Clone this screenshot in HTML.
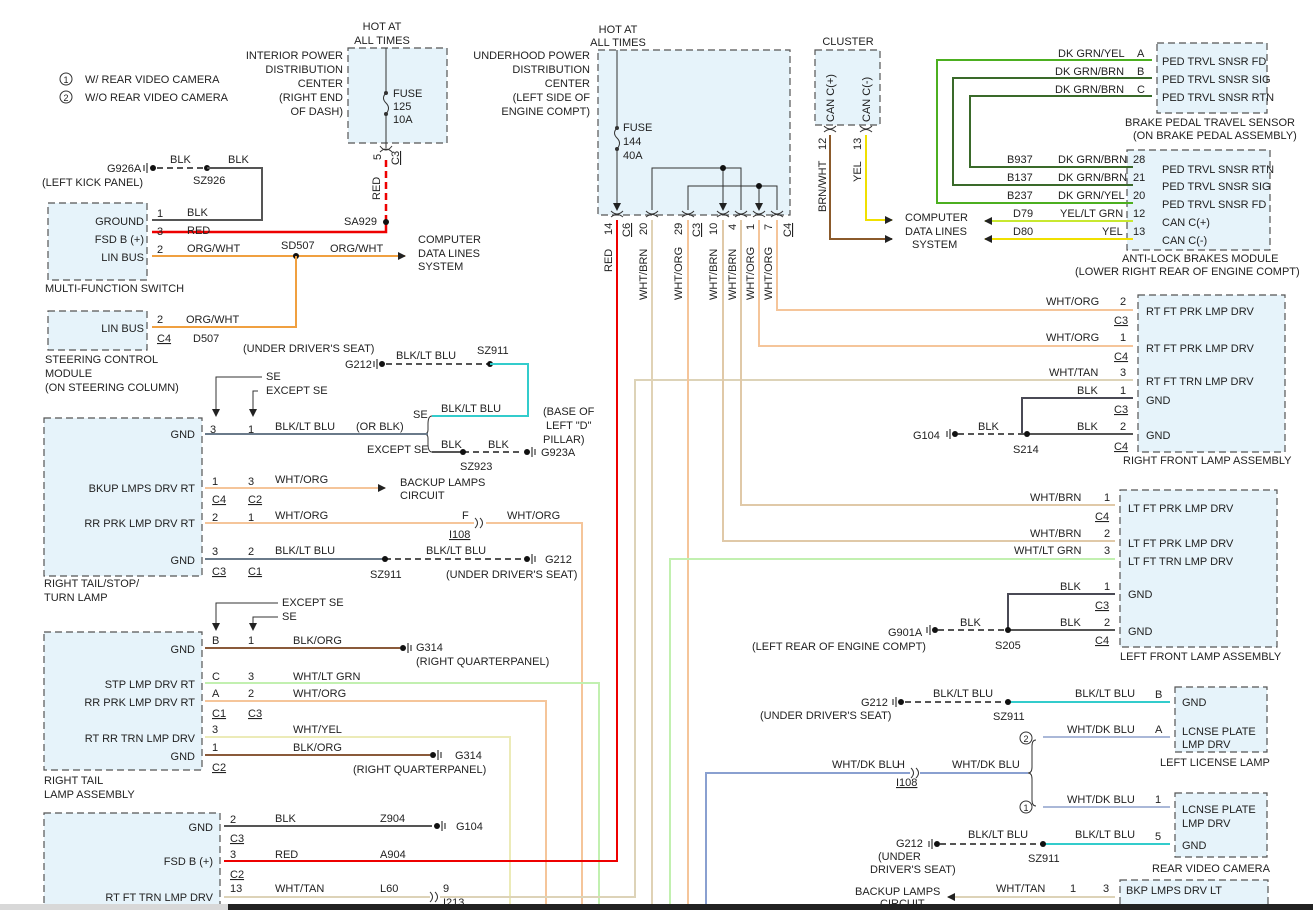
<!DOCTYPE html>
<html><head><meta charset="utf-8"><style>
html,body{margin:0;padding:0;background:#fff;}
svg{display:block;font-family:"Liberation Sans",Arial,sans-serif;font-size:11px;fill:#222;}
.b{fill:#e6f3fa;stroke:#555;stroke-width:1.2;stroke-dasharray:7 4;}
.e{text-anchor:end}
.m{text-anchor:middle}
.w{fill:none;stroke-width:2}
.u{text-decoration:underline}
</style></head><body>
<svg width="1313" height="910" viewBox="0 0 1313 910" xmlns="http://www.w3.org/2000/svg">
<defs>
<marker id="ar" markerWidth="8" markerHeight="8" refX="7" refY="4" orient="auto" markerUnits="userSpaceOnUse"><path d="M0,0 L8,4 L0,8 z" fill="#222"/></marker>
</defs>
<!-- legend -->
<circle cx="66" cy="79" r="6" fill="none" stroke="#333"/><text x="66" y="83" class="m" font-size="9">1</text>
<text x="85" y="83">W/ REAR VIDEO CAMERA</text>
<circle cx="66" cy="97" r="6" fill="none" stroke="#333"/><text x="66" y="101" class="m" font-size="9">2</text>
<text x="85" y="101">W/O REAR VIDEO CAMERA</text>

<!-- boxes -->
<rect class="b" x="348" y="48" width="99" height="95"/>
<rect class="b" x="48" y="203" width="99" height="77"/>
<rect class="b" x="48" y="311" width="99" height="39"/>
<rect class="b" x="44" y="418" width="158" height="158"/>
<rect class="b" x="44" y="632" width="158" height="138"/>
<rect class="b" x="44" y="813" width="176" height="100"/>
<rect class="b" x="598" y="50" width="192" height="165"/>
<rect class="b" x="815" y="50" width="65" height="75"/>
<rect class="b" x="1157" y="43" width="110" height="70"/>
<rect class="b" x="1127" y="150" width="143" height="100"/>
<rect class="b" x="1138" y="295" width="147" height="157"/>
<rect class="b" x="1120" y="490" width="157" height="157"/>
<rect class="b" x="1175" y="687" width="92" height="65"/>
<rect class="b" x="1175" y="793" width="92" height="64"/>
<rect class="b" x="1120" y="880" width="148" height="40"/>

<!-- interior PDC -->
<text x="382" y="30" class="m">HOT AT</text><text x="382" y="44" class="m">ALL TIMES</text>
<text x="343" y="59" class="e">INTERIOR POWER</text><text x="343" y="73" class="e">DISTRIBUTION</text><text x="343" y="87" class="e">CENTER</text><text x="343" y="101" class="e">(RIGHT END</text><text x="343" y="115" class="e">OF DASH)</text>
<path d="M386 48 V93 M386 114 V148" stroke="#333" fill="none"/>
<path d="M386 93 q-5 5 0 10 q5 5 0 11" stroke="#333" fill="none"/>
<circle cx="386" cy="93" r="2" fill="#333"/><circle cx="386" cy="114" r="2" fill="#333"/>
<text x="393" y="97">FUSE</text><text x="393" y="110">125</text><text x="393" y="123">10A</text>
<path d="M380 146 q6 8 12 0 M380 152 q6 -6 12 0" stroke="#333" fill="none"/>
<text transform="translate(381,160) rotate(-90)">5</text><text transform="translate(399,165) rotate(-90)" class="u">C3</text>
<path d="M386 160 V222" stroke="#e00" stroke-width="2.5" stroke-dasharray="7 4"/>
<text transform="translate(380,200) rotate(-90)">RED</text>
<path d="M386 222 V232 H152" stroke="#e00" stroke-width="2.5" fill="none"/>
<circle cx="386" cy="222" r="3" fill="#111"/><text x="344" y="225">SA929</text>

<!-- G926A -->
<text x="107" y="172">G926A</text><text x="42" y="186">(LEFT KICK PANEL)</text>
<circle cx="153" cy="168" r="3" fill="#111"/><path d="M147 163 V173 M144 165 V171" stroke="#111"/>
<path d="M157 168 H207" stroke="#555" stroke-width="2" stroke-dasharray="6 4"/>
<text x="170" y="163">BLK</text><circle cx="207" cy="168" r="3" fill="#111"/><text x="193" y="184">SZ926</text><text x="228" y="163">BLK</text>
<path d="M207 168 H262 V220 H152" stroke="#555" stroke-width="2" fill="none"/>

<!-- MFS -->
<text x="144" y="225" class="e">GROUND</text><text x="144" y="243" class="e">FSD B (+)</text><text x="144" y="261" class="e">LIN BUS</text>
<text x="157" y="217">1</text><text x="157" y="235">3</text><text x="157" y="253">2</text>
<text x="187" y="216">BLK</text><text x="187" y="234">RED</text><text x="187" y="252">ORG/WHT</text>
<path d="M152 256 H405" stroke="#f0a040" stroke-width="2" marker-end="url(#ar)"/>
<circle cx="296" cy="256" r="3" fill="#111"/><text x="281" y="249">SD507</text><text x="330" y="252">ORG/WHT</text>
<text x="418" y="243">COMPUTER</text><text x="418" y="257">DATA LINES</text><text x="418" y="270">SYSTEM</text>
<text x="45" y="292">MULTI-FUNCTION SWITCH</text>
<text x="144" y="332" class="e">LIN BUS</text><text x="157" y="323">2</text><text x="186" y="323">ORG/WHT</text>
<path d="M152 327 H296 V256" stroke="#f0a040" stroke-width="2" fill="none"/>
<text x="157" y="342" class="u">C4</text><text x="193" y="342">D507</text>
<text x="45" y="363">STEERING CONTROL</text><text x="45" y="377">MODULE</text><text x="45" y="391">(ON STEERING COLUMN)</text>

<!-- G212 / SZ911 top -->
<text x="243" y="352">(UNDER DRIVER'S SEAT)</text><text x="345" y="368">G212</text>
<path d="M377 359 V369 M374 361 V367" stroke="#111"/><circle cx="382" cy="364" r="3" fill="#111"/>
<path d="M386 364 H490" stroke="#555" stroke-width="2" stroke-dasharray="6 4"/>
<text x="396" y="359">BLK/LT BLU</text><circle cx="490" cy="364" r="3" fill="#111"/><text x="477" y="354">SZ911</text>
<path d="M490 364 H528 V416 H432" stroke="#3cc" stroke-width="2" fill="none"/>
<text x="441" y="412">BLK/LT BLU</text><text x="413" y="418">SE</text>
<path d="M432 416 q-4 0 -4 8 v6 q0 4 -4 4 q4 0 4 4 v6 q0 8 4 8" stroke="#333" fill="none"/>
<text x="543" y="415">(BASE OF</text><text x="546" y="429">LEFT "D"</text><text x="543" y="443">PILLAR)</text>
<text x="367" y="453">EXCEPT SE</text><text x="441" y="448">BLK</text><text x="488" y="448">BLK</text>
<path d="M432 452 H463" stroke="#555" stroke-width="2"/><path d="M463 452 H522" stroke="#555" stroke-width="2" stroke-dasharray="6 4"/>
<circle cx="463" cy="452" r="3" fill="#111"/><text x="460" y="470">SZ923</text>
<circle cx="527" cy="452" r="3" fill="#111"/><path d="M532 447 V457 M535 449 V455" stroke="#111"/><text x="541" y="456">G923A</text>

<!-- right tail/stop -->
<text x="266" y="380">SE</text><text x="266" y="394">EXCEPT SE</text>
<path d="M262 377 H216 V416" stroke="#333" fill="none" marker-end="url(#ar)"/>
<path d="M258 391 H253 V416" stroke="#333" fill="none" marker-end="url(#ar)"/>
<text x="195" y="438" class="e">GND</text><text x="195" y="492" class="e">BKUP LMPS DRV RT</text><text x="195" y="527" class="e">RR PRK LMP DRV RT</text><text x="195" y="564" class="e">GND</text>
<text x="210" y="433">3</text><text x="248" y="433">1</text><text x="275" y="430">BLK/LT BLU</text><text x="356" y="430">(OR BLK)</text>
<path d="M205 434 H428" stroke="#6a7a8a" stroke-width="2"/>
<text x="212" y="485">1</text><text x="248" y="485">3</text><text x="275" y="483">WHT/ORG</text>
<path d="M205 488 H385" stroke="#f5c59a" stroke-width="2" marker-end="url(#ar)"/>
<text x="212" y="503" class="u">C4</text><text x="248" y="503" class="u">C2</text>
<text x="400" y="486">BACKUP LAMPS</text><text x="400" y="499">CIRCUIT</text>
<text x="212" y="521">2</text><text x="248" y="521">1</text><text x="275" y="519">WHT/ORG</text>
<path d="M205 523 H474 M486 523 H582 V910" stroke="#f5c59a" stroke-width="2" fill="none"/>
<path d="M475 518 q5 5 0 10 M480 518 q5 5 0 10" stroke="#333" fill="none"/>
<text x="462" y="519">F</text><text x="449" y="538" class="u">I108</text><text x="507" y="519">WHT/ORG</text>
<text x="212" y="555">3</text><text x="248" y="555">2</text><text x="275" y="554">BLK/LT BLU</text>
<path d="M205 559 H385" stroke="#6a7a8a" stroke-width="2"/><path d="M385 559 H522" stroke="#555" stroke-width="2" stroke-dasharray="6 4"/>
<circle cx="385" cy="559" r="3" fill="#111"/><text x="370" y="578">SZ911</text><text x="426" y="554">BLK/LT BLU</text>
<circle cx="527" cy="559" r="3" fill="#111"/><path d="M532 554 V564 M535 556 V562" stroke="#111"/><text x="545" y="563">G212</text>
<text x="446" y="578">(UNDER DRIVER'S SEAT)</text>
<text x="212" y="575" class="u">C3</text><text x="248" y="575" class="u">C1</text>
<text x="44" y="587">RIGHT TAIL/STOP/</text><text x="44" y="601">TURN LAMP</text>

<!-- right tail lamp assembly -->
<text x="282" y="606">EXCEPT SE</text><text x="282" y="620">SE</text>
<path d="M278 603 H216 V630" stroke="#333" fill="none" marker-end="url(#ar)"/>
<path d="M278 617 H253 V630" stroke="#333" fill="none" marker-end="url(#ar)"/>
<text x="195" y="653" class="e">GND</text><text x="195" y="688" class="e">STP LMP DRV RT</text><text x="195" y="706" class="e">RR PRK LMP DRV RT</text><text x="195" y="742" class="e">RT RR TRN LMP DRV</text><text x="195" y="760" class="e">GND</text>
<text x="212" y="644">B</text><text x="248" y="644">1</text><text x="293" y="644">BLK/ORG</text>
<path d="M205 648 H400" stroke="#8a5a3a" stroke-width="2"/>
<circle cx="403" cy="648" r="3" fill="#111"/><path d="M408 643 V653 M411 645 V651" stroke="#111"/><text x="416" y="651">G314</text><text x="416" y="665">(RIGHT QUARTERPANEL)</text>
<text x="212" y="680">C</text><text x="248" y="680">3</text><text x="293" y="680">WHT/LT GRN</text>
<path d="M205 683 H599 V910" stroke="#c2f0b0" stroke-width="2" fill="none"/>
<text x="212" y="697">A</text><text x="248" y="697">2</text><text x="293" y="697">WHT/ORG</text>
<path d="M205 701 H546 V910" stroke="#f5c59a" stroke-width="2" fill="none"/>
<text x="212" y="717" class="u">C1</text><text x="248" y="717" class="u">C3</text>
<text x="212" y="733">3</text><text x="293" y="733">WHT/YEL</text>
<path d="M205 737 H510 V910" stroke="#ecebb8" stroke-width="2" fill="none"/>
<text x="212" y="751">1</text><text x="293" y="751">BLK/ORG</text>
<path d="M205 755 H430" stroke="#8a5a3a" stroke-width="2"/>
<circle cx="433" cy="755" r="3" fill="#111"/><path d="M438 750 V760 M441 752 V758" stroke="#111"/><text x="455" y="759">G314</text><text x="353" y="773">(RIGHT QUARTERPANEL)</text>
<text x="212" y="771" class="u">C2</text>
<text x="44" y="784">RIGHT TAIL</text><text x="44" y="798">LAMP ASSEMBLY</text>

<!-- bottom left -->
<text x="213" y="831" class="e">GND</text><text x="213" y="865" class="e">FSD B (+)</text><text x="213" y="901" class="e">RT FT TRN LMP DRV</text>
<text x="230" y="823">2</text><text x="275" y="822">BLK</text><text x="380" y="822">Z904</text>
<path d="M224 826 H432" stroke="#555" stroke-width="2"/>
<circle cx="437" cy="826" r="3" fill="#111"/><path d="M442 821 V831 M445 823 V829" stroke="#111"/><text x="456" y="830">G104</text>
<text x="230" y="842" class="u">C3</text>
<text x="230" y="858">3</text><text x="275" y="858">RED</text><text x="380" y="858">A904</text>
<path d="M224 861 H617 V220" stroke="#e00" stroke-width="2" fill="none"/>
<text x="230" y="878" class="u">C2</text>
<text x="230" y="892">13</text><text x="275" y="892">WHT/TAN</text><text x="380" y="892">L60</text>
<path d="M224 897 H430 M440 897 H635 V380 H1133" stroke="#ddd3b8" stroke-width="2" fill="none"/>
<path d="M430 892 q5 5 0 10 M435 892 q5 5 0 10" stroke="#333" fill="none"/>
<text x="443" y="892">9</text><text x="443" y="906" class="u">I213</text>

<!-- underhood PDC -->
<text x="618" y="33" class="m">HOT AT</text><text x="618" y="46" class="m">ALL TIMES</text>
<text x="590" y="59" class="e">UNDERHOOD POWER</text><text x="590" y="73" class="e">DISTRIBUTION</text><text x="590" y="87" class="e">CENTER</text><text x="590" y="101" class="e">(LEFT SIDE OF</text><text x="590" y="115" class="e">ENGINE COMPT)</text>
<path d="M617 50 V128 M617 149 V210" stroke="#333" fill="none" marker-end="url(#ar)"/>
<path d="M617 128 q-5 5 0 10 q5 5 0 11" stroke="#333" fill="none"/>
<circle cx="617" cy="128" r="2" fill="#333"/><circle cx="617" cy="149" r="2" fill="#333"/>
<text x="623" y="131">FUSE</text><text x="623" y="145">144</text><text x="623" y="159">40A</text>
<path d="M652 210 V168 H741 V210 M723 168 V210" stroke="#333" fill="none"/>
<path d="M652 208 V210 M741 208 V210 M723 208 V210" stroke="#333" marker-end="url(#ar)"/>
<circle cx="723" cy="168" r="3" fill="#111"/>
<path d="M688 210 V186 H777 V210 M759 186 V210" stroke="#333" fill="none"/>
<path d="M688 208 V210 M777 208 V210 M759 208 V210" stroke="#333" marker-end="url(#ar)"/>
<circle cx="759" cy="186" r="3" fill="#111"/>
<g stroke="#333" fill="none">
<path d="M611 211 q6 6 12 0 M611 217 q6 -5 12 0"/><path d="M646 211 q6 6 12 0 M646 217 q6 -5 12 0"/><path d="M682 211 q6 6 12 0 M682 217 q6 -5 12 0"/><path d="M717 211 q6 6 12 0 M717 217 q6 -5 12 0"/><path d="M735 211 q6 6 12 0 M735 217 q6 -5 12 0"/><path d="M753 211 q6 6 12 0 M753 217 q6 -5 12 0"/><path d="M771 211 q6 6 12 0 M771 217 q6 -5 12 0"/>
</g>
<text transform="translate(612,235) rotate(-90)">14</text><text transform="translate(630,237) rotate(-90)" class="u">C6</text>
<text transform="translate(647,235) rotate(-90)">20</text><text transform="translate(682,235) rotate(-90)">29</text><text transform="translate(700,237) rotate(-90)" class="u">C3</text>
<text transform="translate(717,235) rotate(-90)">10</text><text transform="translate(736,230) rotate(-90)">4</text><text transform="translate(754,230) rotate(-90)">1</text><text transform="translate(772,230) rotate(-90)">7</text><text transform="translate(791,237) rotate(-90)" class="u">C4</text>
<text transform="translate(612,272) rotate(-90)">RED</text>
<text transform="translate(647,300) rotate(-90)">WHT/BRN</text><text transform="translate(682,300) rotate(-90)">WHT/ORG</text>
<text transform="translate(717,300) rotate(-90)">WHT/BRN</text><text transform="translate(736,300) rotate(-90)">WHT/BRN</text><text transform="translate(754,300) rotate(-90)">WHT/ORG</text><text transform="translate(772,300) rotate(-90)">WHT/ORG</text>
<g fill="none" stroke-width="2">
<path d="M652 220 V910" stroke="#e0d2b5"/>
<path d="M688 220 V910" stroke="#f5c59a"/>
<path d="M723 220 V541 H1115" stroke="#e0c9a8"/>
<path d="M741 220 V505 H1115" stroke="#e0c9a8"/>
<path d="M759 220 V346 H1133" stroke="#f5c59a"/>
<path d="M777 220 V310 H1133" stroke="#f5c59a"/>
<path d="M670 910 V559 H1115" stroke="#c2f0b0"/>
<path d="M706 910 V773 H910" stroke="#8aa0d0"/>
</g>

<!-- cluster -->
<text x="848" y="45" class="m">CLUSTER</text>
<text transform="translate(834,122) rotate(-90)">CAN C(+)</text><text transform="translate(870,122) rotate(-90)">CAN C(-)</text>
<path d="M824 126 q6 6 12 0 M824 132 q6 -5 12 0 M860 126 q6 6 12 0 M860 132 q6 -5 12 0" stroke="#333" fill="none"/>
<text transform="translate(826,150) rotate(-90)">12</text><text transform="translate(861,150) rotate(-90)">13</text>
<text transform="translate(826,212) rotate(-90)">BRN/WHT</text><text transform="translate(861,182) rotate(-90)">YEL</text>
<path d="M830 135 V239 H892" stroke="#8b5a2b" stroke-width="2" fill="none" marker-end="url(#ar)"/>
<path d="M866 135 V220 H892" stroke="#f0e000" stroke-width="2" fill="none" marker-end="url(#ar)"/>
<text x="905" y="221">COMPUTER</text><text x="905" y="235">DATA LINES</text><text x="912" y="248">SYSTEM</text>

<!-- brake pedal / ABS -->
<text x="1162" y="65">PED TRVL SNSR FD</text><text x="1162" y="83">PED TRVL SNSR SIG</text><text x="1162" y="101">PED TRVL SNSR RTN</text>
<text x="1137" y="57">A</text><text x="1137" y="75">B</text><text x="1137" y="93">C</text>
<text x="1058" y="57">DK GRN/YEL</text><text x="1055" y="75">DK GRN/BRN</text><text x="1055" y="93">DK GRN/BRN</text>
<g fill="none" stroke-width="2">
<path d="M1152 60 H937 V203 H1133" stroke="#4caf20"/>
<path d="M1152 78 H953 V185 H1133" stroke="#3a6a2a"/>
<path d="M1152 96 H970 V167 H1133" stroke="#3a6a2a"/>
<path d="M1133 221 H985" stroke="#c8e830" marker-end="url(#ar)"/>
<path d="M1133 239 H985" stroke="#f0e000" marker-end="url(#ar)"/>
</g>
<text x="1125" y="126">BRAKE PEDAL TRAVEL SENSOR</text><text x="1133" y="139">(ON BRAKE PEDAL ASSEMBLY)</text>
<text x="1162" y="173">PED TRVL SNSR RTN</text><text x="1162" y="190">PED TRVL SNSR SIG</text><text x="1162" y="208">PED TRVL SNSR FD</text><text x="1162" y="226">CAN C(+)</text><text x="1162" y="244">CAN C(-)</text>
<text x="1133" y="163">28</text><text x="1133" y="181">21</text><text x="1133" y="199">20</text><text x="1133" y="217">12</text><text x="1133" y="235">13</text>
<text x="1007" y="163">B937</text><text x="1058" y="163">DK GRN/BRN</text>
<text x="1007" y="181">B137</text><text x="1058" y="181">DK GRN/BRN</text>
<text x="1007" y="199">B237</text><text x="1058" y="199">DK GRN/YEL</text>
<text x="1013" y="217">D79</text><text x="1060" y="217">YEL/LT GRN</text>
<text x="1013" y="235">D80</text><text x="1102" y="235">YEL</text>
<text x="1122" y="262">ANTI-LOCK BRAKES MODULE</text><text x="1075" y="275">(LOWER RIGHT REAR OF ENGINE COMPT)</text>

<!-- right front lamp -->
<text x="1146" y="315">RT FT PRK LMP DRV</text><text x="1146" y="352">RT FT PRK LMP DRV</text><text x="1146" y="385">RT FT TRN LMP DRV</text><text x="1146" y="404">GND</text><text x="1146" y="439">GND</text>
<text x="1120" y="305">2</text><text x="1114" y="324" class="u">C3</text><text x="1120" y="341">1</text><text x="1114" y="360" class="u">C4</text><text x="1120" y="376">3</text><text x="1120" y="394">1</text><text x="1114" y="413" class="u">C3</text><text x="1120" y="430">2</text><text x="1114" y="450" class="u">C4</text>
<text x="1046" y="305">WHT/ORG</text><text x="1046" y="341">WHT/ORG</text><text x="1049" y="376">WHT/TAN</text><text x="1077" y="394">BLK</text><text x="1077" y="430">BLK</text>
<path d="M1133 398 H1022 V434" stroke="#4a4a55" stroke-width="2" fill="none"/>
<path d="M1027 434 H1133" stroke="#555" stroke-width="2"/><path d="M958 434 H1027" stroke="#555" stroke-width="2" stroke-dasharray="6 4"/>
<circle cx="1027" cy="434" r="3" fill="#111"/><text x="1013" y="453">S214</text><text x="978" y="430">BLK</text>
<circle cx="955" cy="434" r="3" fill="#111"/><path d="M950 429 V439 M947 431 V437" stroke="#111"/><text x="913" y="439">G104</text>
<text x="1123" y="464">RIGHT FRONT LAMP ASSEMBLY</text>

<!-- left front lamp -->
<text x="1128" y="512">LT FT PRK LMP DRV</text><text x="1128" y="547">LT FT PRK LMP DRV</text><text x="1128" y="565">LT FT TRN LMP DRV</text><text x="1128" y="598">GND</text><text x="1128" y="635">GND</text>
<text x="1104" y="501">1</text><text x="1095" y="520" class="u">C4</text><text x="1104" y="537">2</text><text x="1104" y="554">3</text><text x="1104" y="590">1</text><text x="1095" y="609" class="u">C3</text><text x="1104" y="626">2</text><text x="1095" y="644" class="u">C4</text>
<text x="1030" y="501">WHT/BRN</text><text x="1030" y="537">WHT/BRN</text><text x="1014" y="554">WHT/LT GRN</text><text x="1060" y="590">BLK</text><text x="1060" y="626">BLK</text>
<path d="M1115 594 H1008 V630" stroke="#4a4a55" stroke-width="2" fill="none"/>
<path d="M1008 630 H1115" stroke="#555" stroke-width="2"/><path d="M938 630 H1008" stroke="#555" stroke-width="2" stroke-dasharray="6 4"/>
<circle cx="1008" cy="630" r="3" fill="#111"/><text x="995" y="649">S205</text><text x="960" y="626">BLK</text>
<circle cx="935" cy="630" r="3" fill="#111"/><path d="M930 625 V635 M927 627 V633" stroke="#111"/><text x="888" y="636">G901A</text>
<text x="752" y="650">(LEFT REAR OF ENGINE COMPT)</text>
<text x="1120" y="660">LEFT FRONT LAMP ASSEMBLY</text>

<!-- left license lamp -->
<text x="1182" y="706">GND</text><text x="1182" y="735">LCNSE PLATE</text><text x="1182" y="748">LMP DRV</text>
<text x="1155" y="698">B</text><text x="1155" y="733">A</text>
<path d="M1008 702 H1170" stroke="#3cc" stroke-width="2"/><path d="M905 702 H1008" stroke="#555" stroke-width="2" stroke-dasharray="6 4"/>
<circle cx="1008" cy="702" r="3" fill="#111"/><text x="993" y="720">SZ911</text>
<text x="933" y="697">BLK/LT BLU</text><text x="1075" y="697">BLK/LT BLU</text>
<circle cx="901" cy="702" r="3" fill="#111"/><path d="M896 697 V707 M893 699 V705" stroke="#111"/><text x="861" y="706">G212</text>
<text x="760" y="719">(UNDER DRIVER'S SEAT)</text>
<path d="M1043 737 H1170" stroke="#aab8d8" stroke-width="2"/><text x="1067" y="733">WHT/DK BLU</text>
<text x="1160" y="766">LEFT LICENSE LAMP</text>
<circle cx="1026" cy="738" r="6" fill="none" stroke="#333"/><text x="1026" y="742" class="m" font-size="9">2</text>
<circle cx="1026" cy="807" r="6" fill="none" stroke="#333"/><text x="1026" y="811" class="m" font-size="9">1</text>
<path d="M1036 740 q-4 0 -4 6 v21 q0 6 -4 6 q4 0 4 6 v21 q0 6 4 6" stroke="#333" fill="none"/>
<path d="M920 773 H1028" stroke="#8aa0d0" stroke-width="2"/>
<path d="M911 768 q5 5 0 10 M916 768 q5 5 0 10" stroke="#333" fill="none"/>
<text x="832" y="768">WHT/DK BLU</text><text x="897" y="768">H</text><text x="896" y="786" class="u">I108</text><text x="952" y="768">WHT/DK BLU</text>
<path d="M1043 807 H1170" stroke="#aab8d8" stroke-width="2"/><text x="1067" y="803">WHT/DK BLU</text>

<!-- rear video camera -->
<text x="1182" y="813">LCNSE PLATE</text><text x="1182" y="827">LMP DRV</text><text x="1182" y="849">GND</text>
<text x="1155" y="803">1</text><text x="1155" y="840">5</text>
<path d="M1043 844 H1170" stroke="#3cc" stroke-width="2"/><path d="M940 844 H1043" stroke="#555" stroke-width="2" stroke-dasharray="6 4"/>
<circle cx="1043" cy="844" r="3" fill="#111"/><text x="1028" y="862">SZ911</text>
<text x="968" y="838">BLK/LT BLU</text><text x="1075" y="838">BLK/LT BLU</text>
<circle cx="937" cy="844" r="3" fill="#111"/><path d="M932 839 V849 M929 841 V847" stroke="#111"/><text x="896" y="847">G212</text>
<text x="878" y="860">(UNDER</text><text x="870" y="873">DRIVER'S SEAT)</text>
<text x="1152" y="872">REAR VIDEO CAMERA</text>

<!-- bottom right -->
<text x="855" y="895">BACKUP LAMPS</text><text x="880" y="907">CIRCUIT</text>
<path d="M1115 897 H948" stroke="#ddd3b8" stroke-width="2" marker-end="url(#ar)"/>
<text x="996" y="892">WHT/TAN</text><text x="1070" y="892">1</text><text x="1103" y="892">3</text>
<text x="1126" y="894">BKP LMPS DRV LT</text>

<rect x="0" y="904" width="228" height="6" fill="#d8d8d8"/>
<rect x="228" y="904" width="1085" height="6" fill="#222"/>
</svg>
</body></html>
